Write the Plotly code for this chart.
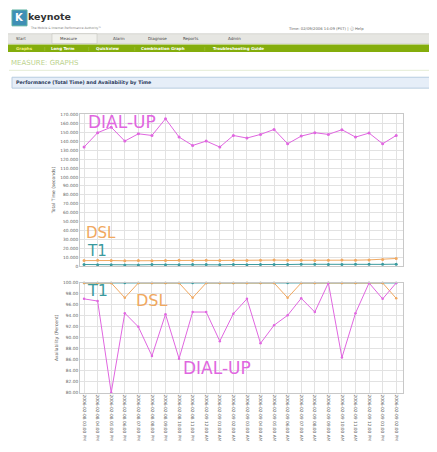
import plotly.graph_objects as go

# ---------------- data ----------------
time_labels = [
    "2006-02-08 03:00 PM", "2006-02-08 04:00 PM", "2006-02-08 05:00 PM", "2006-02-08 06:00 PM",
    "2006-02-08 07:00 PM", "2006-02-08 08:00 PM", "2006-02-08 09:00 PM", "2006-02-08 10:00 PM",
    "2006-02-08 11:00 PM", "2006-02-09 12:00 AM", "2006-02-09 01:00 AM", "2006-02-09 02:00 AM",
    "2006-02-09 03:00 AM", "2006-02-09 04:00 AM", "2006-02-09 05:00 AM", "2006-02-09 06:00 AM",
    "2006-02-09 07:00 AM", "2006-02-09 08:00 AM", "2006-02-09 09:00 AM", "2006-02-09 10:00 AM",
    "2006-02-09 11:00 AM", "2006-02-09 12:00 PM", "2006-02-09 01:00 PM", "2006-02-09 02:00 PM",
]

time_dialup = [133700, 149800, 156000, 140400, 148600, 146700, 165500, 144900,
               135500, 140400, 133700, 146700, 143800, 147900, 153500, 137400,
               146000, 149800, 147900, 153200, 144900, 149400, 137400, 146700]
time_dsl = [6200, 6500, 6300, 6000, 6400, 6100, 6300, 6600, 6200, 6500, 6400, 6700,
            6300, 6500, 6800, 6600, 6500, 6400, 6600, 6900, 6700, 7000, 7400, 8600]
time_t1 = [1800, 1600, 1500, 1200, 1400, 1700, 1500, 1600, 1900, 1700, 1500, 1800,
           1600, 1900, 1700, 1800, 2100, 2000, 1800, 1900, 2000, 2100, 2000, 2200]

avail_dialup = [97.1, 96.7, 80.0, 94.5, 92.0, 86.7, 94.3, 86.2, 94.7, 94.7, 89.4, 94.4,
                97.1, 89.0, 92.3, 94.1, 97.2, 94.7, 100.0, 86.4, 94.5, 100.0, 97.1, 100.0]
avail_dsl = [100, 100, 100, 97.3, 100, 100, 100, 100, 97.3, 100, 100, 100,
             100, 100, 100, 97.3, 100, 100, 100, 100, 100, 100, 100, 97.2]
avail_t1 = [100] * 24

time_ticks = list(range(0, 170001, 10000))
time_ticktext = ["0"] + [f"{v // 1000}.000" for v in time_ticks[1:]]
avail_ticks = list(range(80, 101, 2))
avail_ticktext = [f"{v}.00" for v in avail_ticks]

series_names = ["T1", "DSL", "DIAL-UP"]

# ---------------- styling ----------------
C_DIAL = "#e066e0"
C_DSL = "#f0a860"
C_T1 = "#3a9a9e"
W, H = 437, 452
OFF = 8  # page body margin of the html page

def px(x):
    return (x - OFF) / W

def py(y):
    return 1 - (y - OFF) / H

fig = go.Figure()

xs = list(range(len(time_labels)))

for name, vals, col in zip(series_names, [time_t1, time_dsl, time_dialup], [C_T1, C_DSL, C_DIAL]):
    fig.add_trace(go.Scatter(x=xs, y=vals, mode="lines+markers", name=name,
                             line=dict(color=col, width=1), marker=dict(size=3, color=col),
                             xaxis="x", yaxis="y", showlegend=False))

for name, vals, col in zip(series_names, [avail_t1, avail_dsl, avail_dialup], [C_T1, C_DSL, C_DIAL]):
    fig.add_trace(go.Scatter(x=xs, y=vals, mode="lines+markers", name=name,
                             line=dict(color=col, width=1), marker=dict(size=2.5, color=col),
                             xaxis="x2", yaxis="y2", showlegend=False, cliponaxis=False))

grid = "#e2e2e2"
axis_common = dict(showline=True, linecolor="#c8c8c8", linewidth=1, mirror=True,
                   gridcolor=grid, gridwidth=1, zeroline=False, ticks="",
                   tickfont=dict(size=4.3, color="#666", family="DejaVu Sans"))

xr = [-0.3, 23.5]
fig.update_layout(
    width=W, height=H, margin=dict(l=0, r=0, t=0, b=0),
    paper_bgcolor="white", plot_bgcolor="white",
    xaxis=dict(domain=[px(80), px(403)], anchor="y", range=xr, tickvals=xs,
               showticklabels=False, **axis_common),
    yaxis=dict(domain=[py(267), py(113)], anchor="x", range=[0, 171000],
               tickvals=time_ticks, ticktext=time_ticktext,
               title=dict(text="Total Time (seconds)", font=dict(size=4.5, color="#555", family="DejaVu Sans"), standoff=4),
               **axis_common),
    xaxis2=dict(domain=[px(80), px(403)], anchor="y2", range=xr, tickvals=xs,
                ticktext=time_labels, tickangle=90, **axis_common),
    yaxis2=dict(domain=[py(395), py(284)], anchor="x2", range=[80, 100],
                tickvals=avail_ticks, ticktext=avail_ticktext,
                title=dict(text="Availability (Percent)", font=dict(size=4.5, color="#555", family="DejaVu Sans"), standoff=4),
                **axis_common),
)

shapes = []
ann = []

def text(x, y, s, size, color, bold=False, anchor="left", family="DejaVu Sans", yanchor="middle"):
    ann.append(dict(x=px(x), y=py(y), xref="paper", yref="paper", text=(f"<b>{s}</b>" if bold else s),
                    showarrow=False, xanchor=anchor, yanchor=yanchor, borderpad=0,
                    font=dict(size=size, color=color, family=family)))

def rect(x0, y0, x1, y1, fill, line=None, lw=0):
    shapes.append(dict(type="rect", xref="paper", yref="paper", x0=px(x0), x1=px(x1), y0=py(y1), y1=py(y0),
                       fillcolor=fill, line=dict(color=line or fill, width=lw), layer="below"))

# logo
rect(12, 8, 27, 24, "#3f8fb5", "#5ab0a0", 1)
text(19.5, 16, "K", 10, "white", bold=True, anchor="center")
text(27, 15, "keynote", 9.5, "#333333", bold=True)
text(29, 26, "The Mobile & Internet Performance Authority™", 3.0, "#777")
text(287, 27, "Time: 02/09/2006 14:09 (PST) | ⓘ Help", 3.8, "#666")

# nav bar
rect(5, 32, 437, 42, "#e6e6e2", "#bdbdb5", 0.5)
rect(52, 32, 97, 42, "#f2f2ee", "#bdbdb5", 0.5)
for xx, lab in [(15, "Start"), (59, "Measure"), (112, "Alarm"), (147, "Diagnose"), (182, "Reports"), (227, "Admin")]:
    text(xx, 37, lab, 4, "#444")
# green bar
rect(7, 43, 437, 50.5, "#84ad0c")
for xx, lab, c in [(15, "Graphs", "#f4f080"), (50, "Long Term", "#ffffff"), (95, "Quickview", "#ffffff"),
                   (140, "Combination Graph", "#ffffff"), (212, "Troubleshooting Guide", "#ffffff")]:
    text(xx, 46.8, lab, 4, c, bold=True)
for xx in [43, 87, 133, 203]:
    text(xx, 46.8, "|", 4, "#b8d060")
text(10, 62, "MEASURE: GRAPHS", 7, "#bcd38e")
shapes.append(dict(type="line", xref="paper", yref="paper", x0=px(9), x1=px(437), y0=py(69), y1=py(69),
                   line=dict(color="#e4ecd4", width=1)))
rect(12, 76, 437, 87, "#e6eef8", "#b8cce0", 1)
text(15, 81.5, "Performance (Total Time) and Availability by Time", 4.8, "#2a3a5a", bold=True)

# series labels
lab_font = "DejaVu Sans"
text(87, 121, "DIAL-UP", 17, C_DIAL, family=lab_font)
text(85, 233, "DSL", 15, C_DSL, family=lab_font)
text(86, 252, "T1", 15, C_T1, family=lab_font)
text(86, 291.5, "T1", 16, C_T1, family=lab_font)
text(135, 301.5, "DSL", 16, C_DSL, family=lab_font)
text(182, 369.5, "DIAL-UP", 17, C_DIAL, family=lab_font)

fig.update_layout(shapes=shapes, annotations=ann)
fig.write_html("out.html")
